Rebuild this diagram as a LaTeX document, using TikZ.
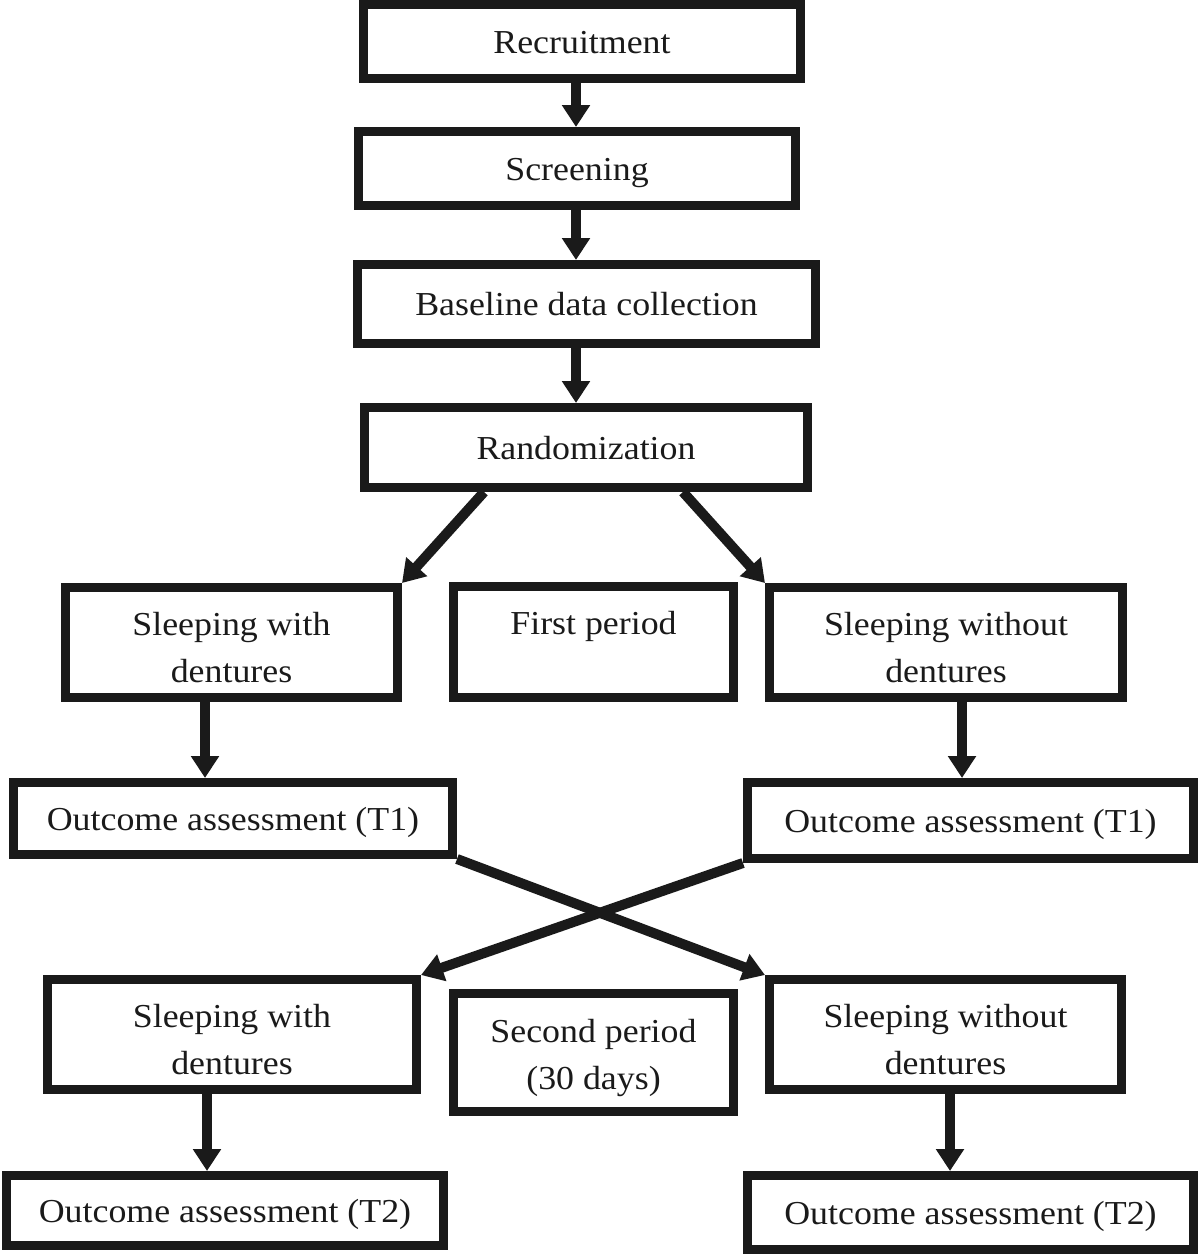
\documentclass[tikz,border=0pt]{standalone}
\usepackage{fontspec}
\setmainfont{Liberation Serif}[FakeStretch=1.07]
\usetikzlibrary{arrows.meta}
\definecolor{ink}{HTML}{1A1A1A}
\newcommand\onestrut{\rule[-8pt]{0pt}{39pt}}
\newcommand\topstrut{\rule{0pt}{40pt}}
\newcommand\botstrut{\rule[-8pt]{0pt}{8pt}}
\newcommand\deepstrut{\rule[-14pt]{0pt}{14pt}}
\begin{document}
\begin{tikzpicture}[x=1pt,y=-1pt,
  box/.style={draw=ink, line width=9pt, rectangle, inner sep=0pt, align=center,
    text=ink, font=\fontsize{33.5}{47}\selectfont},
  arr/.style={draw=ink, line width=10pt, -{Triangle[width=27pt,length=22pt]}}]
\useasboundingbox[fill=white] (0,0) rectangle (1200,1255);
% top chain
\node[box, minimum width=437pt, minimum height=74pt] (rec) at (582,41.5) {\onestrut Recruitment};
\node[box, minimum width=437pt, minimum height=74pt] (scr) at (577,168.5) {\onestrut Screening};
\node[box, minimum width=458pt, minimum height=79pt] (base) at (586.5,304) {\onestrut Baseline data collection};
\node[box, minimum width=443pt, minimum height=80pt] (rand) at (586,447.5) {\onestrut Randomization};
% first period row
\node[box, minimum width=332pt, minimum height=110pt] (swa) at (231.5,642.5) {\topstrut Sleeping with\\dentures\botstrut};
\node[box, minimum width=280pt, minimum height=111pt] (fp) at (593.5,642) {\topstrut First period\\\botstrut};
\node[box, minimum width=353pt, minimum height=110pt] (swoa) at (946,642.5) {\topstrut Sleeping without\\dentures\botstrut};
% T1
\node[box, minimum width=439pt, minimum height=72pt] (ola) at (233,818.5) {\onestrut Outcome assessment (T1)};
\node[box, minimum width=446pt, minimum height=76pt] (ora) at (970.5,820.5) {\onestrut Outcome assessment (T1)};
% second period row
\node[box, minimum width=369pt, minimum height=110pt] (swb) at (232,1034.5) {\topstrut Sleeping with\\dentures\botstrut};
\node[box, minimum width=280pt, minimum height=118pt] (sp) at (593.5,1052.5) {\topstrut Second period\\(30 days)\deepstrut};
\node[box, minimum width=352pt, minimum height=110pt] (swob) at (945.5,1034.5) {\topstrut Sleeping without\\dentures\botstrut};
% T2
\node[box, minimum width=437pt, minimum height=70pt] (olb) at (225,1210.5) {\onestrut Outcome assessment (T2)};
\node[box, minimum width=446pt, minimum height=74pt] (orb) at (970.5,1212.5) {\onestrut Outcome assessment (T2)};
% guide coordinates for vertical arrows
\coordinate (cx) at (576,0);
\coordinate (lx1) at (205,0);
\coordinate (rx1) at (962,0);
\coordinate (lx2) at (207,0);
\coordinate (rx2) at (950,0);
% arrows
\draw[arr] (cx |- rec.south) -- (cx |- scr.north);
\draw[arr] (cx |- scr.south) -- (cx |- base.north);
\draw[arr] (cx |- base.south) -- (cx |- rand.north);
\draw[arr] ([xshift=-102pt]rand.south) -- (swa.north east);
\draw[arr] ([xshift=97pt]rand.south) -- (swoa.north west);
\draw[arr] (lx1 |- swa.south) -- (lx1 |- ola.north);
\draw[arr] (rx1 |- swoa.south) -- (rx1 |- ora.north);
\draw[arr] (ola.south east) -- (swob.north west);
\draw[arr] (ora.south west) -- (swb.north east);
\draw[arr] (lx2 |- swb.south) -- (lx2 |- olb.north);
\draw[arr] (rx2 |- swob.south) -- (rx2 |- orb.north);
\end{tikzpicture}
\end{document}
